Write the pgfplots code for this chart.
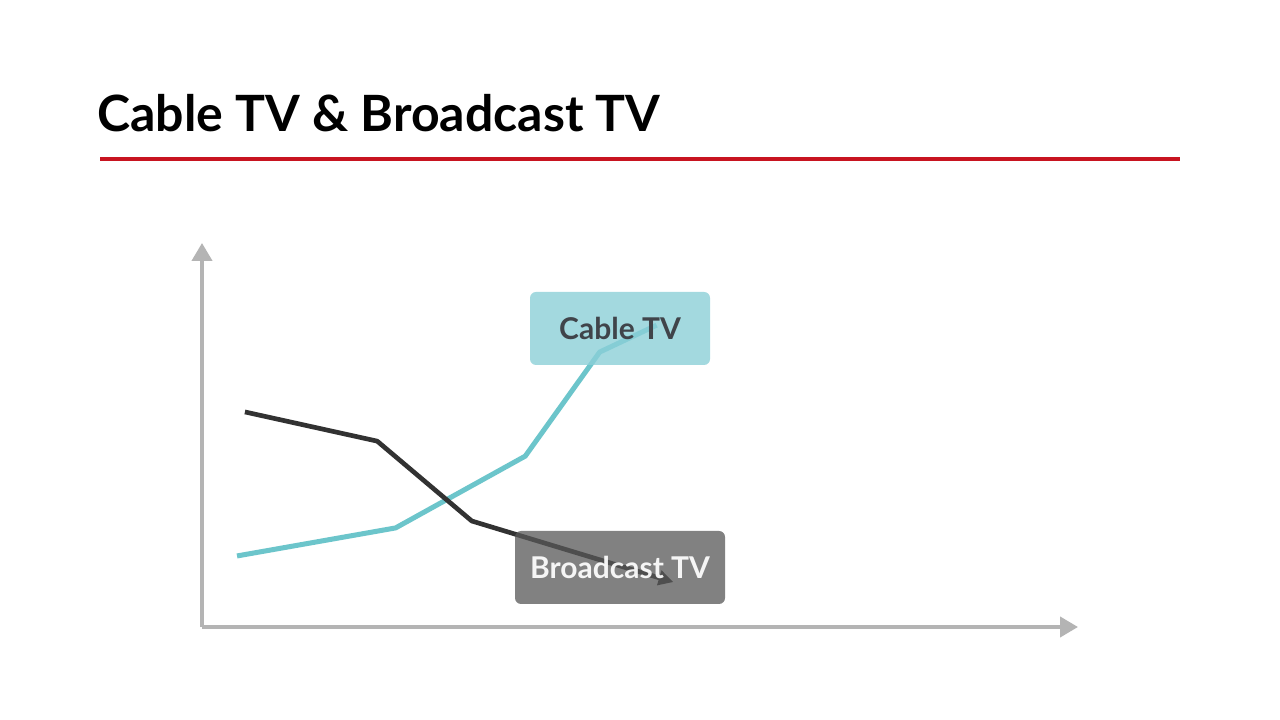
\documentclass[border=0pt]{standalone}
\usepackage{fontspec}
\setmainfont{Lato}
\usepackage{pgfplots}
\pgfplotsset{compat=1.18}
\usetikzlibrary{arrows.meta}
\definecolor{cabletv}{RGB}{108,197,203}
\definecolor{cablebox}{RGB}{140,208,216}
\definecolor{cabletext}{RGB}{64,68,74}
\definecolor{bcast}{RGB}{50,50,50}
\definecolor{bcastbox}{RGB}{88,88,88}
\definecolor{axisgray}{RGB}{180,180,180}
\definecolor{titlered}{RGB}{200,20,32}

\begin{document}
\begin{tikzpicture}[x=0.75pt,y=0.75pt]
% picture in pixel units, y measured from the bottom
\useasboundingbox[fill=white] (0,0) rectangle (1280,720);
% title and rule
\node[anchor=base west, inner sep=0, font=\fontsize{37.5}{40}\selectfont\bfseries] at (97,588) {Cable TV \& Broadcast TV};
\draw[titlered, line width=3pt] (100,561) -- (1180,561);

% origin of the axis at pixel (202,93): 151.5pt, 69.75pt
\begin{axis}[
  at={(151.5pt,69.75pt)}, anchor=south west,
  scale only axis, width=657pt, height=288pt,
  xmin=0, xmax=10, ymin=0, ymax=10,
  axis lines=left,
  axis line style={axisgray, line width=3pt, -{Triangle[length=13.5pt,width=15pt]}},
  xtick=\empty, ytick=\empty,
  clip=false
]
\addplot[cabletv, line width=3.75pt, line join=round] coordinates {
  (0.40,1.85) (2.21,2.58) (3.69,4.45) (4.54,7.16) (5.19,7.86)
};
\addplot[bcast, line width=3.5pt, line join=round, -{Triangle[length=11pt,width=11pt]}] coordinates {
  (0.49,5.60) (2.00,4.84) (3.08,2.76) (5.38,1.17)
};
\end{axis}

% labels
\node[fill=cablebox, fill opacity=0.8, text opacity=1, rounded corners=4.5pt,
  minimum width=135pt, minimum height=54.75pt, text=cabletext,
  font=\fontsize{22.5}{24}\selectfont\bfseries] at (620,391.5) {Cable TV};
\node[fill=bcastbox, fill opacity=0.75, text opacity=0.92, rounded corners=4.5pt,
  minimum width=157.5pt, minimum height=54.75pt, text=white,
  font=\fontsize{22.5}{24}\selectfont\bfseries] at (620,152.5) {Broadcast TV};
\end{tikzpicture}
\end{document}
